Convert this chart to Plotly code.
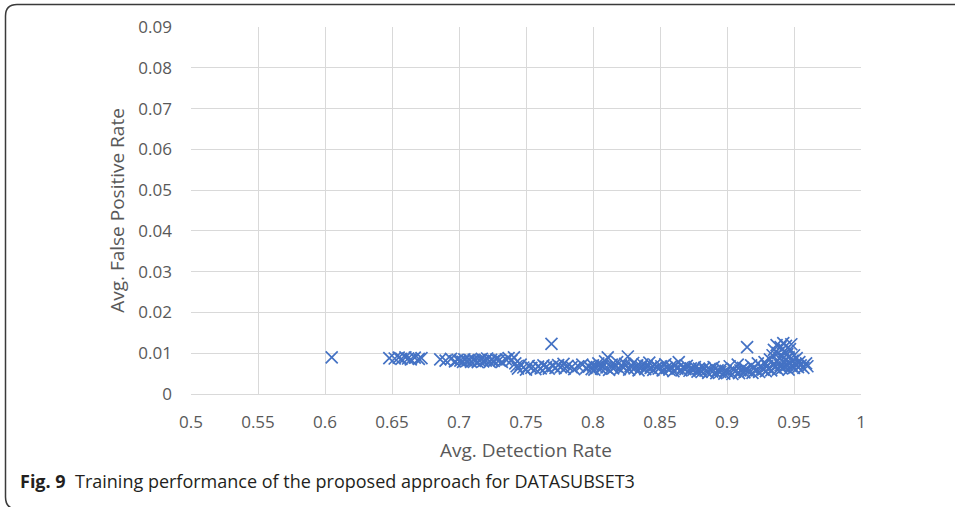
import plotly.graph_objects as go

# ---- data ----
detection_rate = [
    0.605,
    0.648, 0.652, 0.655, 0.657, 0.660, 0.662, 0.664, 0.667, 0.670, 0.672,
    0.686, 0.690, 0.694, 0.697, 0.699, 0.701, 0.703, 0.704, 0.706, 0.708,
    0.709, 0.711, 0.712, 0.714, 0.715, 0.717, 0.718, 0.720, 0.721, 0.723,
    0.724, 0.726, 0.728, 0.730, 0.732, 0.735, 0.737, 0.739, 0.741, 0.742,
    0.743, 0.744, 0.746, 0.748, 0.750, 0.752, 0.754, 0.757, 0.759, 0.761,
    0.763, 0.765, 0.767, 0.769, 0.770, 0.772, 0.774, 0.776, 0.778, 0.779,
    0.781, 0.784, 0.786, 0.789, 0.792, 0.795, 0.797, 0.799,
    0.800, 0.801, 0.803, 0.804, 0.806, 0.807, 0.809, 0.810, 0.811, 0.812,
    0.814, 0.815, 0.817, 0.818, 0.820, 0.821, 0.823, 0.824, 0.826, 0.827,
    0.828, 0.830, 0.831, 0.833, 0.834, 0.836, 0.837, 0.839, 0.840, 0.842,
    0.843, 0.845, 0.846, 0.848, 0.849, 0.851, 0.852, 0.854, 0.855, 0.857,
    0.858, 0.860, 0.861, 0.863, 0.864, 0.866, 0.867, 0.869, 0.870, 0.872,
    0.873, 0.875, 0.876, 0.878, 0.879,
    0.880, 0.881, 0.883, 0.884, 0.886, 0.887, 0.889, 0.890, 0.892, 0.893,
    0.895, 0.896, 0.898, 0.899, 0.901, 0.902, 0.904, 0.905, 0.906, 0.908,
    0.909, 0.910, 0.912, 0.913, 0.914, 0.915, 0.916, 0.918, 0.919, 0.920,
    0.922, 0.923, 0.924, 0.926, 0.927, 0.928, 0.929,
    0.930, 0.931, 0.932, 0.933, 0.934, 0.935, 0.935, 0.936, 0.937, 0.937,
    0.938, 0.938, 0.939, 0.940, 0.940, 0.941, 0.941, 0.942, 0.942, 0.943,
    0.943, 0.944, 0.944, 0.945, 0.945, 0.946, 0.946, 0.947, 0.947, 0.948,
    0.948, 0.949, 0.950, 0.950, 0.951, 0.952, 0.953, 0.954, 0.955, 0.957,
    0.959, 0.960,
]
false_positive_rate = [
    0.0090,
    0.0088, 0.0087, 0.0089, 0.0086, 0.0090, 0.0087, 0.0085, 0.0089, 0.0086, 0.0088,
    0.0085, 0.0082, 0.0086, 0.0080, 0.0084, 0.0082, 0.0079, 0.0085, 0.0081, 0.0083,
    0.0079, 0.0084, 0.0081, 0.0078, 0.0083, 0.0086, 0.0080, 0.0082, 0.0087, 0.0079,
    0.0084, 0.0081, 0.0085, 0.0083, 0.0079, 0.0085, 0.0088, 0.0082, 0.0090, 0.0075,
    0.0068, 0.0062, 0.0072, 0.0065, 0.0060, 0.0069, 0.0064, 0.0061, 0.0067, 0.0063,
    0.0070, 0.0066, 0.0062, 0.0123, 0.0068, 0.0064, 0.0071, 0.0066, 0.0074, 0.0063,
    0.0069, 0.0066, 0.0061, 0.0068, 0.0072, 0.0064, 0.0067, 0.0061,
    0.0070, 0.0060, 0.0066, 0.0075, 0.0062, 0.0069, 0.0080, 0.0065, 0.0090, 0.0059,
    0.0072, 0.0063, 0.0068, 0.0078, 0.0061, 0.0070, 0.0065, 0.0074, 0.0092, 0.0060,
    0.0068, 0.0076, 0.0063, 0.0070, 0.0058, 0.0066, 0.0073, 0.0061, 0.0069, 0.0077,
    0.0064, 0.0059, 0.0071, 0.0066, 0.0062, 0.0068, 0.0058, 0.0073, 0.0064, 0.0060,
    0.0067, 0.0056, 0.0070, 0.0062, 0.0078, 0.0058, 0.0065, 0.0061, 0.0069, 0.0057,
    0.0063, 0.0060, 0.0066, 0.0055, 0.0062,
    0.0059, 0.0054, 0.0064, 0.0057, 0.0052, 0.0061, 0.0055, 0.0066, 0.0051, 0.0058,
    0.0054, 0.0062, 0.0050, 0.0057, 0.0053, 0.0068, 0.0049, 0.0060, 0.0055, 0.0072,
    0.0051, 0.0058, 0.0064, 0.0053, 0.0061, 0.0115, 0.0056, 0.0070, 0.0052, 0.0063,
    0.0058, 0.0075, 0.0054, 0.0066, 0.0060, 0.0078, 0.0056,
    0.0068, 0.0062, 0.0085, 0.0058, 0.0095, 0.0072, 0.0108, 0.0065, 0.0120, 0.0080,
    0.0060, 0.0100, 0.0088, 0.0115, 0.0070, 0.0063, 0.0093, 0.0125, 0.0078, 0.0105,
    0.0066, 0.0085, 0.0118, 0.0072, 0.0098, 0.0060, 0.0090, 0.0110, 0.0076, 0.0068,
    0.0122, 0.0082, 0.0064, 0.0095, 0.0073, 0.0088, 0.0066, 0.0078, 0.0070, 0.0064,
    0.0075, 0.0068,
]
x_ticks = [0.5, 0.55, 0.6, 0.65, 0.7, 0.75, 0.8, 0.85, 0.9, 0.95, 1]
x_tick_labels = ["0.5", "0.55", "0.6", "0.65", "0.7", "0.75", "0.8", "0.85", "0.9", "0.95", "1"]
y_ticks = [0, 0.01, 0.02, 0.03, 0.04, 0.05, 0.06, 0.07, 0.08, 0.09]
y_tick_labels = ["0", "0.01", "0.02", "0.03", "0.04", "0.05", "0.06", "0.07", "0.08", "0.09"]

W, H = 955, 507
L, R, T, B = 191, 94, 27, 113
PW, PH = W - L - R, H - T - B


def px(xp):
    return (xp - L) / PW


def py(yp):
    return (H - B - yp) / PH


GRAY = "#595959"
GRID = "#d9d9d9"
BLUE = "#4472C4"

fig = go.Figure()
fig.add_trace(go.Scatter(
    x=detection_rate, y=false_positive_rate, mode="markers",
    marker=dict(symbol="x-thin", size=12, color=BLUE,
                line=dict(width=1.7, color=BLUE)),
    showlegend=False, cliponaxis=False,
))

fig.update_xaxes(
    range=[0.5, 1], tickvals=x_ticks, ticktext=x_tick_labels,
    showgrid=True, gridcolor=GRID, gridwidth=1,
    zeroline=False, showline=True, linecolor=GRID, linewidth=1,
    tickfont=dict(family="Open Sans", size=17, color=GRAY),
    ticks="", ticklen=0, ticklabelstandoff=13,
    title=dict(text="Avg. Detection Rate", standoff=11,
               font=dict(family="Open Sans", size=19, color=GRAY)),
)
fig.update_yaxes(
    range=[0, 0.09], tickvals=y_ticks, ticktext=y_tick_labels,
    showgrid=True, gridcolor=GRID, gridwidth=1,
    zeroline=False, showline=False,
    tickfont=dict(family="Open Sans", size=17, color=GRAY),
    ticks="", ticklen=0, ticklabelstandoff=18,
    title=dict(text="Avg. False Positive Rate", standoff=8,
               font=dict(family="Open Sans", size=19, color=GRAY)),
)

frame_path = (
    f"M {px(960)} {py(4.5)} L {px(17)} {py(4.5)} "
    f"Q {px(5.5)} {py(4.5)} {px(5.5)} {py(16)} "
    f"L {px(5.5)} {py(497)} "
    f"Q {px(5.5)} {py(509)} {px(17)} {py(509)} "
    f"L {px(960)} {py(509)}"
)

fig.update_layout(
    width=W, height=H,
    margin=dict(l=L, r=R, t=T, b=B, pad=0),
    paper_bgcolor="white", plot_bgcolor="white",
    shapes=[dict(type="path", xref="paper", yref="paper", path=frame_path,
                 line=dict(color="#3a3a3a", width=1.5), layer="above")],
    annotations=[dict(
        xref="paper", yref="paper", x=px(18), y=py(481),
        xanchor="left", yanchor="middle", showarrow=False,
        text="<b>Fig. 9</b>  Training performance of the proposed approach for DATASUBSET3",
        font=dict(family="Open Sans", size=18, color="#231f20"),
    )],
)

fig.write_html("out.html")
